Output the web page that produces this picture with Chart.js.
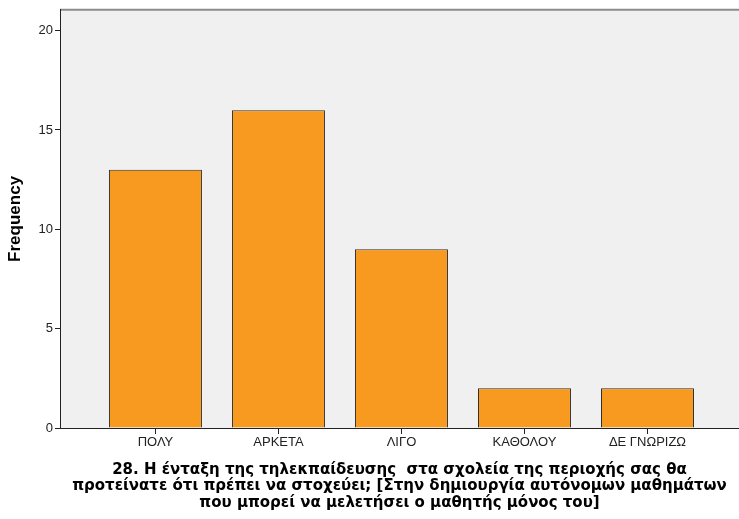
<!DOCTYPE html>
<html>
<head>
<meta charset="utf-8">
<script src="https://cdn.jsdelivr.net/npm/chart.js@4"></script>
<style>
html,body{margin:0;padding:0;background:#fff;}
#wrap{width:739px;height:519px;}
</style>
</head>
<body>
<div id="wrap"><canvas id="c" width="739" height="519"></canvas></div>
<script>
const categories = ["ΠΟΛΥ", "ΑΡΚΕΤΑ", "ΛΙΓΟ", "ΚΑΘΟΛΟΥ", "ΔΕ ΓΝΩΡΙΖΩ"];
const frequencies = [13, 16, 9, 2, 2];
const yTicks = [0, 5, 10, 15, 20];
const xTitle = [
  "28. Η ένταξη της τηλεκπαίδευσης  στα σχολεία της περιοχής σας θα",
  "προτείνατε ότι πρέπει να στοχεύει; [Στην δημιουργία αυτόνομων μαθημάτων",
  "που μπορεί να μελετήσει ο μαθητής μόνος του]"
];
const yTitle = "Frequency";

const bgPlugin = {
  id: 'bgPlugin',
  beforeDraw(chart) {
    const {ctx, chartArea: a} = chart;
    ctx.save();
    ctx.fillStyle = '#f0f0f0';
    ctx.fillRect(a.left, a.top, a.right - a.left, a.bottom - a.top);
    ctx.strokeStyle = '#8c8c8c';
    ctx.lineWidth = 2;
    ctx.beginPath();
    ctx.moveTo(a.left, a.top);
    ctx.lineTo(a.right, a.top);
    ctx.stroke();
    ctx.restore();
  }
};

const tickFont = {family: '"Liberation Sans", Arial, sans-serif', size: 13};

new Chart(document.getElementById('c'), {
  type: 'bar',
  data: {
    datasets: [{
      data: frequencies.map((v, i) => ({x: i, y: v})),
      backgroundColor: '#f89a1f',
      borderColor: '#2e2e2e',
      borderWidth: 1,
      barPercentage: 1,
      categoryPercentage: 0.756
    }]
  },
  plugins: [bgPlugin],
  options: {
    responsive: false,
    animation: false,
    devicePixelRatio: 1,
    layout: {padding: {top: 4, right: 0, left: 0, bottom: 0}},
    plugins: {legend: {display: false}, tooltip: {enabled: false}},
    scales: {
      x: {
        type: 'linear',
        offset: false,
        min: -0.776,
        max: 4.744,
        afterFit(s) { s.height = 91; },
        afterBuildTicks(s) { s.ticks = categories.map((_, i) => ({value: i})); },
        ticks: {
          autoSkip: false,
          maxRotation: 0,
          padding: 1,
          color: '#222',
          font: tickFont,
          callback: (v) => categories[v] ?? ''
        },
        grid: {offset: false, drawOnChartArea: false, drawTicks: true, tickLength: 6, color: '#222'},
        border: {display: true, color: '#222', width: 1},
        title: {
          display: true,
          text: xTitle,
          color: '#000',
          font: {family: '"DejaVu Sans", Verdana, sans-serif', size: 15, weight: 'bold', lineHeight: 1.1},
          padding: {top: 0, bottom: 8}
        }
      },
      y: {
        min: 0,
        max: 21.05,
        afterFit(s) { s.width = 60; },
        afterBuildTicks(s) { s.ticks = yTicks.map(v => ({value: v})); },
        ticks: {
          padding: 2,
          color: '#222',
          font: tickFont
        },
        grid: {drawOnChartArea: false, drawTicks: true, tickLength: 5, color: '#222'},
        border: {display: true, color: '#222', width: 1},
        title: {
          display: true,
          text: yTitle,
          color: '#000',
          font: {family: '"Liberation Sans", Arial, sans-serif', size: 17, weight: 'bold'},
          padding: {top: 5, bottom: 0}
        }
      }
    }
  }
});
</script>
</body>
</html>
